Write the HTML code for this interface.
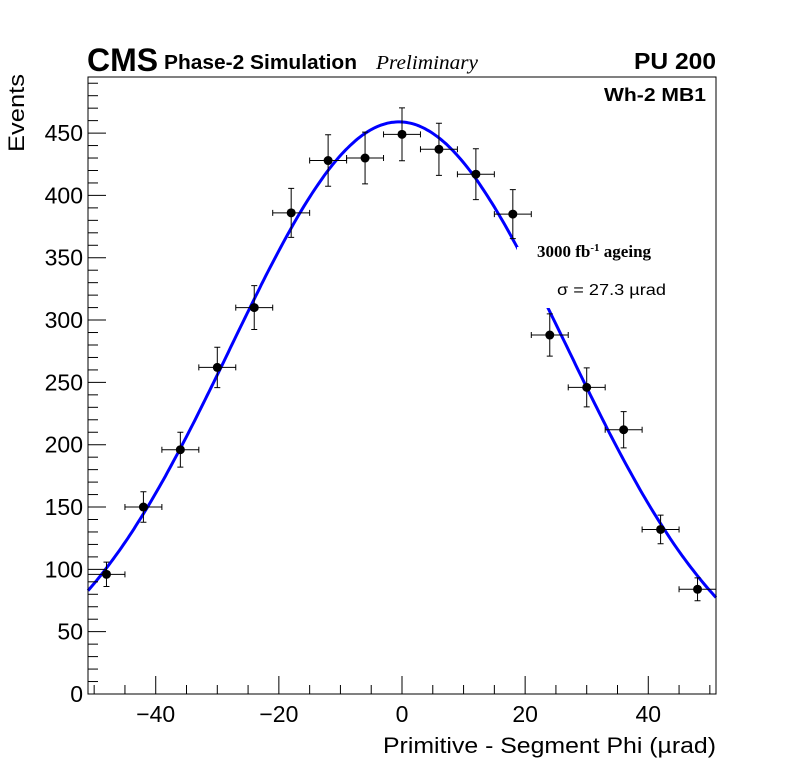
<!DOCTYPE html>
<html><head><meta charset="utf-8"><style>
body{margin:0;background:#fff}
svg{display:block;font-family:"Liberation Sans",sans-serif}
</style></head><body>
<svg width="796" height="772" viewBox="0 0 796 772">
<g id="plot"></g>
<text x="87" y="71" font-size="32" font-weight="bold" textLength="71" lengthAdjust="spacingAndGlyphs">CMS</text>
<text x="164" y="69" font-size="20" font-weight="bold" textLength="193" lengthAdjust="spacingAndGlyphs">Phase-2 Simulation</text>
<text x="376" y="69" font-size="20" font-style="italic" font-family="Liberation Serif,serif" textLength="102" lengthAdjust="spacingAndGlyphs">Preliminary</text>
<text x="634" y="69" font-size="23" font-weight="bold" textLength="82" lengthAdjust="spacingAndGlyphs">PU 200</text>
<text x="604" y="101" font-size="18" font-weight="bold" textLength="102" lengthAdjust="spacingAndGlyphs">Wh-2 MB1</text>
<text x="537" y="257" font-size="17" font-weight="bold" font-family="Liberation Serif,serif">3000 fb<tspan dy="-6" font-size="11">-1</tspan><tspan dy="6"> ageing</tspan></text>
<text x="557" y="295" font-size="16" textLength="109" lengthAdjust="spacingAndGlyphs">σ = 27.3 µrad</text>
<text x="383" y="753" font-size="22" textLength="333" lengthAdjust="spacingAndGlyphs">Primitive - Segment Phi (µrad)</text>
<text x="24" y="152" font-size="22" textLength="78" lengthAdjust="spacingAndGlyphs" transform="rotate(-90 24 152)">Events</text>
</svg>
<script>
const xCenters=[-48,-42,-36,-30,-24,-18,-12,-6,0,6,12,18,24,30,36,42,48];
const counts=[96,150,196,262,310,386,428,430,449,437,417,385,288,246,212,132,84];
const yTicks=[0,50,100,150,200,250,300,350,400,450];
const xTicks=[-40,-20,0,20,40];
const fitAmp=459, fitMean=-0.5, fitSigma=27.3;
const L=88,R=716,T=77,B=694,X0=-51,X1=51,Y0=0,Y1=495;
const sx=v=>L+(v-X0)/(X1-X0)*(R-L);
const sy=v=>B-(v-Y0)/(Y1-Y0)*(B-T);
const g=document.getElementById('plot');
const NS='http://www.w3.org/2000/svg';
function mk(t,a){const e=document.createElementNS(NS,t);for(const k in a)e.setAttribute(k,a[k]);g.appendChild(e);return e;}
let d='';
for(let i=0;i<=300;i++){const x=X0+(X1-X0)*i/300;const y=fitAmp*Math.exp(-((x-fitMean)**2)/(2*fitSigma**2));d+=(i?'L':'M')+sx(x).toFixed(1)+','+sy(y).toFixed(1);}
const c=mk('path',{d:d,fill:'none',stroke:'#0000ff','stroke-width':3});


const box=mk('rect',{x:517,y:247,width:198,height:61,fill:'#fff'});


xCenters.forEach((xc,i)=>{
 const v=counts[i],e=Math.sqrt(v);
 const px=sx(xc),py=sy(v);
 const ex=mk('path',{d:`M${sx(xc-3)},${py}H${sx(xc+3)}M${sx(xc-3)},${py-3}v6M${sx(xc+3)},${py-3}v6M${px},${sy(v-e)}V${sy(v+e)}M${px-3},${sy(v-e)}h6M${px-3},${sy(v+e)}h6`,stroke:'#000','stroke-width':1,fill:'none'});
 
 
 const p=mk('circle',{cx:px,cy:py,r:4.5,fill:'#000'});
 
 
});
const f=mk('rect',{x:L,y:T,width:R-L,height:B-T,fill:'none',stroke:'#000','stroke-width':1});


for(let v=0;v<=Y1;v+=10){const y=sy(v);const maj=v%50===0;mk('line',{x1:L,x2:L+(maj?18:10),y1:y,y2:y,stroke:'#000'});}
yTicks.forEach(v=>{const t=mk('text',{x:L-5,y:sy(v)+8,'font-size':23,'text-anchor':'end'});t.textContent=v;

});
for(let v=-50;v<=50;v+=5){const x=sx(v);const maj=v%20===0;mk('line',{x1:x,x2:x,y1:B,y2:B-(maj?18:9),stroke:'#000'});}
xTicks.forEach(v=>{const t=mk('text',{x:sx(v),y:B+28,'font-size':23,'text-anchor':'middle'});t.textContent=v<0?'\u2212'+(-v):v;

});
</script>
</body></html>
